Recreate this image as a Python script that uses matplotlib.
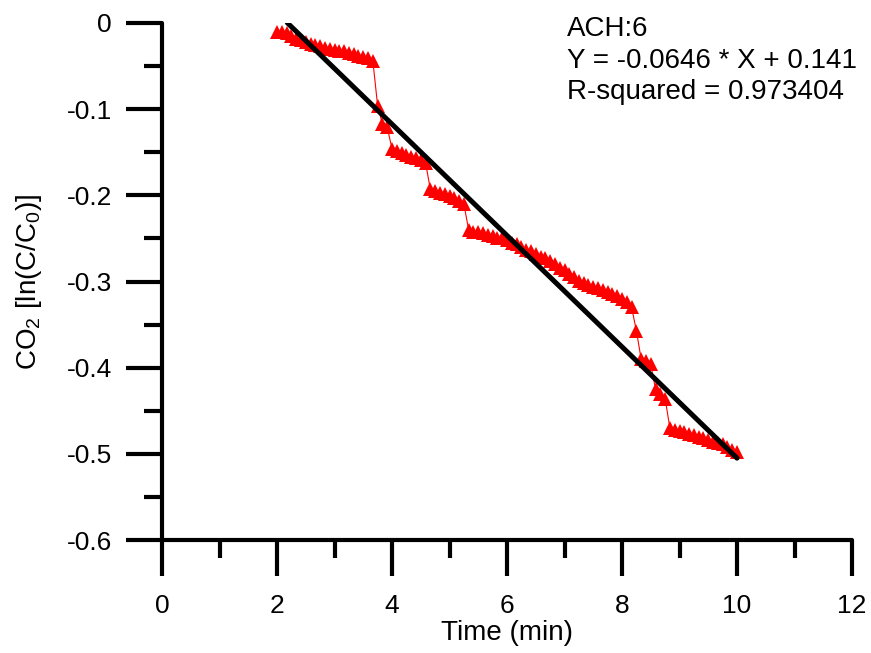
import numpy as np
import matplotlib.pyplot as plt
from matplotlib.ticker import MultipleLocator

plt.rcParams['font.family'] = ['Liberation Sans', 'DejaVu Sans']
plt.rcParams['mathtext.fontset'] = 'custom'
plt.rcParams['mathtext.rm'] = 'Liberation Sans'

#### Data ####

# sampling every 5 s, from 2 to 10 min
time_min = [
    2.000, 2.083, 2.167, 2.250, 2.333, 2.417, 2.500, 2.583, 2.667, 2.750,
    2.833, 2.917, 3.000, 3.083, 3.167, 3.250, 3.333, 3.417, 3.500, 3.583,
    3.667, 3.750, 3.833, 3.917, 4.000, 4.083, 4.167, 4.250, 4.333, 4.417,
    4.500, 4.583, 4.667, 4.750, 4.833, 4.917, 5.000, 5.083, 5.167, 5.250,
    5.333, 5.417, 5.500, 5.583, 5.667, 5.750, 5.833, 5.917, 6.000, 6.083,
    6.167, 6.250, 6.333, 6.417, 6.500, 6.583, 6.667, 6.750, 6.833, 6.917,
    7.000, 7.083, 7.167, 7.250, 7.333, 7.417, 7.500, 7.583, 7.667, 7.750,
    7.833, 7.917, 8.000, 8.083, 8.167, 8.250, 8.333, 8.417, 8.500, 8.583,
    8.667, 8.750, 8.833, 8.917, 9.000, 9.083, 9.167, 9.250, 9.333, 9.417,
    9.500, 9.583, 9.667, 9.750, 9.833, 9.917, 10.000,
]
ln_c = [
    -0.011, -0.011, -0.012, -0.015, -0.018, -0.020, -0.022, -0.024, -0.026, -0.027,
    -0.029, -0.030, -0.031, -0.032, -0.033, -0.035, -0.036, -0.038, -0.040, -0.041,
    -0.044, -0.096, -0.117, -0.121, -0.146, -0.149, -0.151, -0.153, -0.155, -0.157,
    -0.159, -0.162, -0.193, -0.195, -0.197, -0.199, -0.201, -0.203, -0.206, -0.210,
    -0.240, -0.242, -0.243, -0.244, -0.246, -0.247, -0.249, -0.250, -0.252, -0.255,
    -0.257, -0.260, -0.263, -0.265, -0.268, -0.271, -0.273, -0.276, -0.280, -0.284,
    -0.287, -0.291, -0.295, -0.299, -0.302, -0.304, -0.306, -0.308, -0.310, -0.312,
    -0.314, -0.317, -0.320, -0.324, -0.330, -0.357, -0.390, -0.392, -0.396, -0.425,
    -0.430, -0.436, -0.470, -0.472, -0.473, -0.475, -0.477, -0.478, -0.480, -0.482,
    -0.484, -0.486, -0.487, -0.489, -0.492, -0.495, -0.498,
]

# linear fit (from the chart annotation)
fit_slope = -0.0646
fit_intercept = 0.141
fit_r2 = 0.973404
fit_range = [2.18, 10.0]
ach = 6

#### Plot ####

fig = plt.figure(figsize=(8.71, 6.53), dpi=100)
ax = fig.add_axes([162 / 871, 113 / 653, 690 / 871, 517 / 653])

ax.plot(time_min, ln_c, color='red', lw=0.8, marker='^', ms=10,
        markeredgewidth=0, zorder=2)

fx = np.array(fit_range)
ax.plot(fx, fit_slope * fx + fit_intercept, color='black', lw=3.6,
        solid_capstyle='round', zorder=3)

ax.text(7.04, 0.008,
        'ACH:%d\nY = %.4f * X + %.3f\nR-squared = %.6f' % (ach, fit_slope, fit_intercept, fit_r2),
        fontsize=20, va='top', ha='left', linespacing=1.27)

ax.set_xlim(0, 12)
ax.set_ylim(-0.6, 0)
ax.xaxis.set_major_locator(MultipleLocator(2))
ax.xaxis.set_minor_locator(MultipleLocator(1))
ax.yaxis.set_major_locator(MultipleLocator(0.1))
ax.yaxis.set_minor_locator(MultipleLocator(0.05))
ax.yaxis.set_major_formatter(lambda v, p: '0' if abs(v) < 1e-9 else '%.1f' % v)

for s in ['top', 'right']:
    ax.spines[s].set_visible(False)
for s in ['left', 'bottom']:
    ax.spines[s].set_linewidth(3)
    ax.spines[s].set_capstyle('round')

ax.tick_params(axis='both', which='major', direction='out', length=26, width=3,
               labelsize=19)
ax.tick_params(axis='both', which='minor', direction='out', length=13, width=3)
ax.tick_params(axis='x', which='major', pad=13)
ax.tick_params(axis='y', which='major', pad=10)

ax.set_xlabel('Time (min)', fontsize=20, labelpad=1)
ax.set_ylabel(r'CO$\mathregular{_2}$ [ln(C/C$\mathregular{_0}$)]', fontsize=20, labelpad=16)

fig.savefig('out.png', dpi=100)
